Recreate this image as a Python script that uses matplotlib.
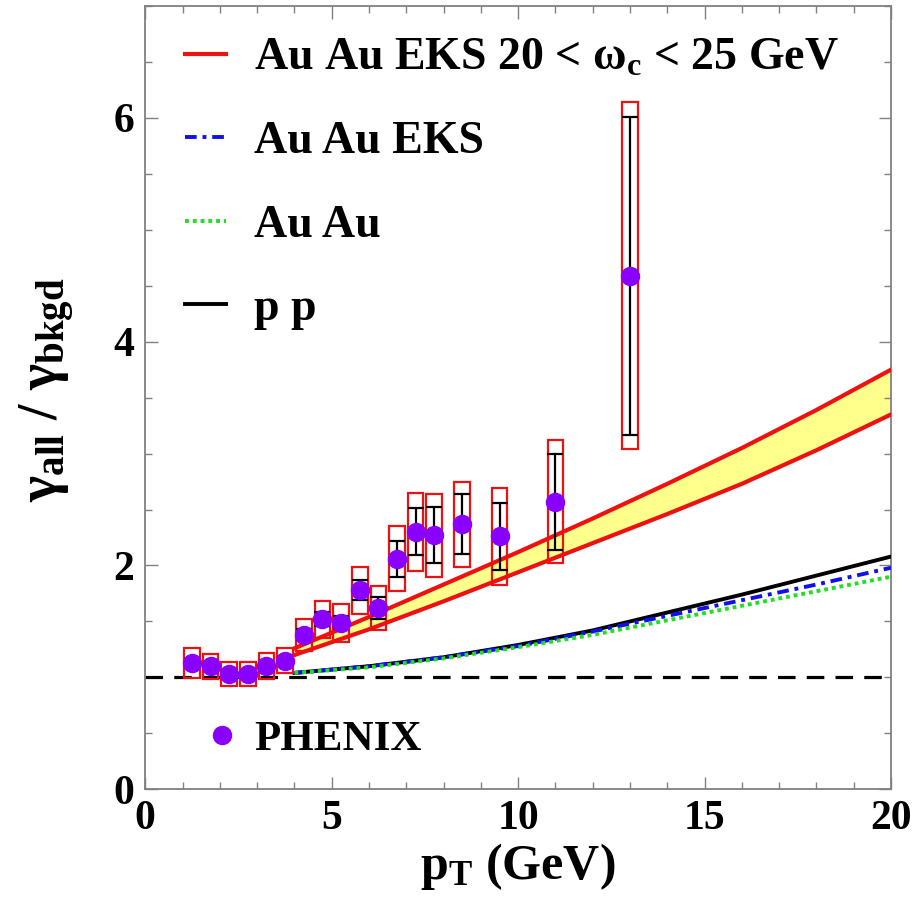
import numpy as np
import matplotlib
matplotlib.use("Agg")
import matplotlib.pyplot as plt
from matplotlib.patches import Rectangle
from matplotlib.ticker import MultipleLocator

plt.rcParams['font.family'] = ['Liberation Serif', 'DejaVu Serif']
plt.rcParams['font.weight'] = 'bold'
plt.rcParams['mathtext.fontset'] = 'custom'
plt.rcParams['mathtext.rm'] = 'Liberation Serif:bold'
plt.rcParams['mathtext.it'] = 'Liberation Serif:bold'
plt.rcParams['mathtext.bf'] = 'Liberation Serif:bold'
plt.rcParams['mathtext.default'] = 'rm'

# PHENIX data points
pt = [1.25, 1.75, 2.25, 2.75, 3.25, 3.75, 4.25, 4.75, 5.25, 5.75,
      6.25, 6.75, 7.25, 7.75, 8.5, 9.5, 11.0, 13.0]
ratio = [1.13, 1.10, 1.03, 1.03, 1.10, 1.15, 1.38, 1.52, 1.49, 1.78,
         1.62, 2.06, 2.30, 2.27, 2.37, 2.26, 2.57, 4.59]
stat_err = [0.03, 0.03, 0.03, 0.03, 0.03, 0.04, 0.05, 0.06, 0.06, 0.09,
            0.10, 0.16, 0.21, 0.25, 0.27, 0.30, 0.43, 1.42]
syst_err = [0.135, 0.11, 0.11, 0.11, 0.115, 0.115, 0.14, 0.165, 0.17, 0.21,
            0.20, 0.29, 0.35, 0.37, 0.38, 0.43, 0.55, 1.55]

# theory curves
pt_curve = [4, 6, 8, 10, 12, 14, 16, 18, 20]
band_upper = [1.26, 1.54, 1.83, 2.12, 2.42, 2.73, 3.05, 3.39, 3.75]
band_lower = [1.20, 1.43, 1.68, 1.94, 2.20, 2.46, 2.73, 3.03, 3.35]
auau_eks = [1.04, 1.10, 1.18, 1.28, 1.41, 1.55, 1.69, 1.83, 1.98]
auau = [1.04, 1.09, 1.17, 1.27, 1.38, 1.51, 1.64, 1.77, 1.90]
pp = [1.04, 1.10, 1.18, 1.29, 1.42, 1.58, 1.74, 1.91, 2.08]

purple = '#8a00ff'

fig = plt.figure(figsize=(9.15, 9.06), dpi=100)
ax = fig.add_axes([0.1588, 0.1288, 0.815, 0.8646])

ax.axhline(1.0, color='black', lw=2.3, ls=(0, (5.5, 3.5)), zorder=2)

ax.fill_between(pt_curve, band_lower, band_upper, color='#ffff8c', lw=0, zorder=1)
l_red, = ax.plot(pt_curve, band_upper, color='#ee1111', lw=3.0, zorder=3)
ax.plot(pt_curve, band_lower, color='#ee1111', lw=3.0, zorder=3)
l_pp, = ax.plot(pt_curve, pp, color='black', lw=2.8, zorder=3)
l_eks, = ax.plot(pt_curve, auau_eks, color='#1010ee', lw=2.8,
                 ls=(0, (3, 1.5, 1, 1.5)), zorder=3)
l_auau, = ax.plot(pt_curve, auau, color='#22dd22', lw=2.8, ls=(0, (1, 1)), zorder=3)

box_w = 0.42
for x, y, s in zip(pt, ratio, syst_err):
    ax.add_patch(Rectangle((x - box_w / 2, y - s), box_w, 2 * s, fill=False,
                           edgecolor='#ee1111', lw=1.6, zorder=4))

ax.errorbar(pt, ratio, yerr=stat_err, fmt='none', ecolor='black', elinewidth=1.6,
            capsize=5.5, capthick=1.6, zorder=5)
l_ph, = ax.plot(pt, ratio, 'o', color=purple, ms=13, zorder=6, linestyle='none')

ax.set_xlim(0, 20)
ax.set_ylim(0, 7)
ax.xaxis.set_major_locator(MultipleLocator(5))
ax.xaxis.set_minor_locator(MultipleLocator(1))
ax.yaxis.set_major_locator(MultipleLocator(2))
ax.yaxis.set_minor_locator(MultipleLocator(0.5))
ax.tick_params(which='both', direction='in', top=True, right=True, colors='#808080',
               labelcolor='black', labelsize=30, width=1.0)
ax.tick_params(which='major', length=9, pad=8)
ax.tick_params(which='minor', length=5)
for lab in ax.get_xticklabels() + ax.get_yticklabels():
    lab.set_fontweight('bold')
for sp in ax.spines.values():
    sp.set_color('#808080')
    sp.set_linewidth(1.3)

ax.set_xlabel(r'p$_{\rm T}$ (GeV)', fontsize=36, fontweight='bold', labelpad=2)
ax.set_ylabel(r'$\gamma_{\rm all}$ / $\gamma_{\rm bkgd}$', fontsize=40,
              fontweight='bold')
ax.yaxis.set_label_coords(-0.092, 0.51)

leg1 = ax.legend([l_red, l_eks, l_auau, l_pp],
                 [r'Au Au EKS 20 < $\omega_{\rm c}$ < 25 GeV', 'Au Au EKS', 'Au Au', 'p p'],
                 loc='upper left', bbox_to_anchor=(0.01, 1.0), frameon=False,
                 fontsize=33, handlelength=0.9, handletextpad=0.6,
                 labelspacing=0.9, borderaxespad=0.3)
ax.add_artist(leg1)
ax.legend([l_ph], ['PHENIX'], loc='lower left', bbox_to_anchor=(0.045, 0.0),
          frameon=False, fontsize=31, handlelength=0.6, handletextpad=0.45,
          borderaxespad=0.3)

fig.savefig('out.png', dpi=100)
